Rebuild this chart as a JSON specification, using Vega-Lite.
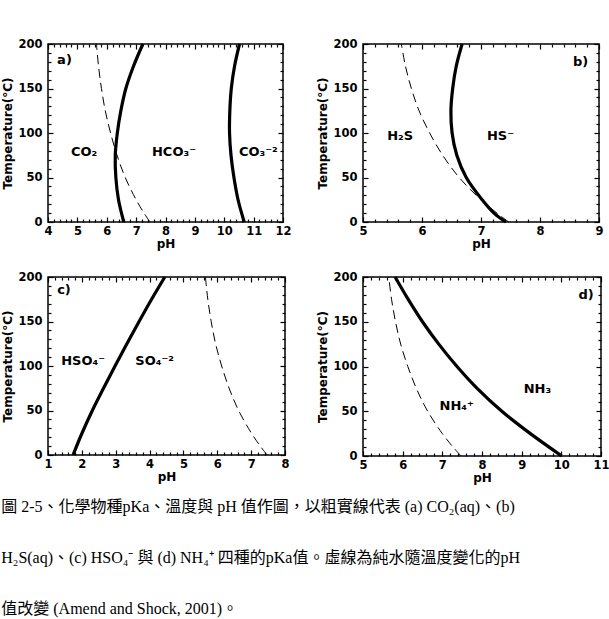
{
  "$schema": "https://vega.github.io/schema/vega-lite/v6.json",
  "background": "white",
  "padding": {"left": 1, "top": 36, "right": 2, "bottom": 2},
  "title": {
    "text": [
      "圖 2-5、化學物種pKa、溫度與 pH 值作圖，以粗實線代表 (a) CO₂(aq)、(b)",
      "H₂S(aq)、(c) HSO₄⁻ 與 (d) NH₄⁺ 四種的pKa值。虛線為純水隨溫度變化的pH",
      "值改變 (Amend and Shock, 2001)。"
    ],
    "orient": "bottom",
    "anchor": "start",
    "font": "Liberation Serif, Noto Sans CJK TC",
    "fontSize": 16,
    "fontWeight": "normal",
    "color": "black",
    "lineHeight": 51,
    "offset": 15
  },
  "columns": 2,
  "bounds": "flush",
  "align": "none",
  "spacing": {"row": 55, "column": 78},
  "datasets": {
    "pka": [
      {"panel": "a", "pair": "CO2/HCO3-", "T": 0, "pH": 6.58},
      {"panel": "a", "pair": "CO2/HCO3-", "T": 25, "pH": 6.40},
      {"panel": "a", "pair": "CO2/HCO3-", "T": 50, "pH": 6.31},
      {"panel": "a", "pair": "CO2/HCO3-", "T": 75, "pH": 6.29},
      {"panel": "a", "pair": "CO2/HCO3-", "T": 100, "pH": 6.36},
      {"panel": "a", "pair": "CO2/HCO3-", "T": 125, "pH": 6.48},
      {"panel": "a", "pair": "CO2/HCO3-", "T": 150, "pH": 6.65},
      {"panel": "a", "pair": "CO2/HCO3-", "T": 175, "pH": 6.91},
      {"panel": "a", "pair": "CO2/HCO3-", "T": 200, "pH": 7.23},
      {"panel": "a", "pair": "HCO3-/CO3-2", "T": 0, "pH": 10.68},
      {"panel": "a", "pair": "HCO3-/CO3-2", "T": 25, "pH": 10.47},
      {"panel": "a", "pair": "HCO3-/CO3-2", "T": 50, "pH": 10.33},
      {"panel": "a", "pair": "HCO3-/CO3-2", "T": 75, "pH": 10.23},
      {"panel": "a", "pair": "HCO3-/CO3-2", "T": 100, "pH": 10.18},
      {"panel": "a", "pair": "HCO3-/CO3-2", "T": 125, "pH": 10.19},
      {"panel": "a", "pair": "HCO3-/CO3-2", "T": 150, "pH": 10.24},
      {"panel": "a", "pair": "HCO3-/CO3-2", "T": 175, "pH": 10.35},
      {"panel": "a", "pair": "HCO3-/CO3-2", "T": 200, "pH": 10.52},
      {"panel": "b", "pair": "H2S/HS-", "T": 0, "pH": 7.42},
      {"panel": "b", "pair": "H2S/HS-", "T": 10, "pH": 7.22},
      {"panel": "b", "pair": "H2S/HS-", "T": 25, "pH": 7.02},
      {"panel": "b", "pair": "H2S/HS-", "T": 50, "pH": 6.75},
      {"panel": "b", "pair": "H2S/HS-", "T": 75, "pH": 6.59},
      {"panel": "b", "pair": "H2S/HS-", "T": 100, "pH": 6.51},
      {"panel": "b", "pair": "H2S/HS-", "T": 125, "pH": 6.49},
      {"panel": "b", "pair": "H2S/HS-", "T": 150, "pH": 6.52},
      {"panel": "b", "pair": "H2S/HS-", "T": 175, "pH": 6.58},
      {"panel": "b", "pair": "H2S/HS-", "T": 200, "pH": 6.68},
      {"panel": "c", "pair": "HSO4-/SO4-2", "T": 0, "pH": 1.74},
      {"panel": "c", "pair": "HSO4-/SO4-2", "T": 25, "pH": 2.01},
      {"panel": "c", "pair": "HSO4-/SO4-2", "T": 50, "pH": 2.31},
      {"panel": "c", "pair": "HSO4-/SO4-2", "T": 75, "pH": 2.64},
      {"panel": "c", "pair": "HSO4-/SO4-2", "T": 100, "pH": 2.98},
      {"panel": "c", "pair": "HSO4-/SO4-2", "T": 125, "pH": 3.33},
      {"panel": "c", "pair": "HSO4-/SO4-2", "T": 150, "pH": 3.69},
      {"panel": "c", "pair": "HSO4-/SO4-2", "T": 175, "pH": 4.06},
      {"panel": "c", "pair": "HSO4-/SO4-2", "T": 200, "pH": 4.45},
      {"panel": "d", "pair": "NH4+/NH3", "T": 0, "pH": 10.01},
      {"panel": "d", "pair": "NH4+/NH3", "T": 25, "pH": 9.22},
      {"panel": "d", "pair": "NH4+/NH3", "T": 50, "pH": 8.50},
      {"panel": "d", "pair": "NH4+/NH3", "T": 75, "pH": 7.89},
      {"panel": "d", "pair": "NH4+/NH3", "T": 100, "pH": 7.37},
      {"panel": "d", "pair": "NH4+/NH3", "T": 125, "pH": 6.91},
      {"panel": "d", "pair": "NH4+/NH3", "T": 150, "pH": 6.50},
      {"panel": "d", "pair": "NH4+/NH3", "T": 175, "pH": 6.14},
      {"panel": "d", "pair": "NH4+/NH3", "T": 200, "pH": 5.81}
    ],
    "neutral": [
      {"T": 0, "pH": 7.47},
      {"T": 10, "pH": 7.27},
      {"T": 25, "pH": 7.00},
      {"T": 50, "pH": 6.63},
      {"T": 75, "pH": 6.35},
      {"T": 100, "pH": 6.13},
      {"T": 125, "pH": 5.95},
      {"T": 150, "pH": 5.82},
      {"T": 175, "pH": 5.72},
      {"T": 200, "pH": 5.65}
    ],
    "species": [
      {"panel": "a", "text": "CO₂", "pH": 4.78, "T": 79},
      {"panel": "a", "text": "HCO₃⁻", "pH": 7.54, "T": 79},
      {"panel": "a", "text": "CO₃⁻²", "pH": 10.5, "T": 79},
      {"panel": "b", "text": "H₂S", "pH": 5.41, "T": 97},
      {"panel": "b", "text": "HS⁻", "pH": 7.10, "T": 97},
      {"panel": "c", "text": "HSO₄⁻", "pH": 1.39, "T": 106},
      {"panel": "c", "text": "SO₄⁻²", "pH": 3.58, "T": 106},
      {"panel": "d", "text": "NH₄⁺", "pH": 6.93, "T": 56},
      {"panel": "d", "text": "NH₃", "pH": 9.05, "T": 75}
    ],
    "tags": [
      {"panel": "a", "text": "a)", "pH": 4.31, "T": 182},
      {"panel": "b", "text": "b)", "pH": 8.56, "T": 180},
      {"panel": "c", "text": "c)", "pH": 1.27, "T": 185},
      {"panel": "d", "text": "d)", "pH": 10.43, "T": 180}
    ]
  },
  "concat": [
    {
      "width": 235, "height": 178,
      "resolve": {"axis": {"x": "independent", "y": "independent"}},
      "layer": [
        {
          "data": {"name": "pka"},
          "transform": [{"filter": "datum.panel === 'a'"}],
          "mark": {"type": "line", "color": "black", "strokeWidth": 3.2, "interpolate": "catmull-rom"},
          "encoding": {
            "x": {"field": "pH", "type": "quantitative", "scale": {"domain": [4, 12], "nice": false, "zero": false},
                  "axis": {"orient": "bottom", "values": [4, 5, 6, 7, 8, 9, 10, 11, 12], "title": "pH"}},
            "y": {"field": "T", "type": "quantitative", "scale": {"domain": [0, 200], "nice": false},
                  "axis": {"orient": "left", "values": [0, 50, 100, 150, 200], "title": "Temperature(°C)"}},
            "detail": {"field": "pair"},
            "order": {"field": "T"}
          }
        },
        {
          "data": {"name": "neutral"},
          "mark": {"type": "line", "color": "black", "strokeWidth": 1, "strokeDash": [9, 5], "interpolate": "catmull-rom"},
          "encoding": {
            "x": {"field": "pH", "type": "quantitative", "scale": {"domain": [4, 12], "nice": false, "zero": false},
                  "axis": {"orient": "top", "values": [4, 5, 6, 7, 8, 9, 10, 11, 12], "labels": false, "title": null}},
            "y": {"field": "T", "type": "quantitative", "scale": {"domain": [0, 200], "nice": false},
                  "axis": {"orient": "right", "values": [0, 50, 100, 150, 200], "labels": false, "title": null}},
            "order": {"field": "T"}
          }
        },
        {
          "data": {"name": "species"},
          "transform": [{"filter": "datum.panel === 'a'"}],
          "mark": {"type": "text", "align": "left", "baseline": "middle", "font": "DejaVu Sans", "fontWeight": "bold", "fontSize": 13, "color": "black"},
          "encoding": {
            "x": {"field": "pH", "type": "quantitative", "scale": {"domain": [4, 12], "nice": false, "zero": false},
                  "axis": {"orient": "bottom", "values": [4.2, 4.4, 4.6, 4.8, 5.2, 5.4, 5.6, 5.8, 6.2, 6.4, 6.6, 6.8, 7.2, 7.4, 7.6, 7.8, 8.2, 8.4, 8.6, 8.8, 9.2, 9.4, 9.6, 9.8, 10.2, 10.4, 10.6, 10.8, 11.2, 11.4, 11.6, 11.8], "labels": false, "title": null, "tickSize": -3}},
            "y": {"field": "T", "type": "quantitative", "scale": {"domain": [0, 200], "nice": false},
                  "axis": {"orient": "left", "values": [10, 20, 30, 40, 60, 70, 80, 90, 110, 120, 130, 140, 160, 170, 180, 190], "labels": false, "title": null, "tickSize": -3}},
            "text": {"field": "text"}
          }
        },
        {
          "data": {"name": "tags"},
          "transform": [{"filter": "datum.panel === 'a'"}],
          "mark": {"type": "text", "align": "left", "baseline": "middle", "font": "DejaVu Sans", "fontWeight": "bold", "fontSize": 13, "color": "black"},
          "encoding": {
            "x": {"field": "pH", "type": "quantitative", "scale": {"domain": [4, 12], "nice": false, "zero": false},
                  "axis": {"orient": "top", "values": [4.2, 4.4, 4.6, 4.8, 5.2, 5.4, 5.6, 5.8, 6.2, 6.4, 6.6, 6.8, 7.2, 7.4, 7.6, 7.8, 8.2, 8.4, 8.6, 8.8, 9.2, 9.4, 9.6, 9.8, 10.2, 10.4, 10.6, 10.8, 11.2, 11.4, 11.6, 11.8], "labels": false, "title": null, "tickSize": -3}},
            "y": {"field": "T", "type": "quantitative", "scale": {"domain": [0, 200], "nice": false},
                  "axis": {"orient": "right", "values": [10, 20, 30, 40, 60, 70, 80, 90, 110, 120, 130, 140, 160, 170, 180, 190], "labels": false, "title": null, "tickSize": -3}},
            "text": {"field": "text"}
          }
        }
      ]
    },
    {
      "width": 236, "height": 178,
      "resolve": {"axis": {"x": "independent", "y": "independent"}},
      "layer": [
        {
          "data": {"name": "pka"},
          "transform": [{"filter": "datum.panel === 'b'"}],
          "mark": {"type": "line", "color": "black", "strokeWidth": 3.2, "interpolate": "catmull-rom"},
          "encoding": {
            "x": {"field": "pH", "type": "quantitative", "scale": {"domain": [5, 9], "nice": false, "zero": false},
                  "axis": {"orient": "bottom", "values": [5, 6, 7, 8, 9], "title": "pH"}},
            "y": {"field": "T", "type": "quantitative", "scale": {"domain": [0, 200], "nice": false},
                  "axis": {"orient": "left", "values": [0, 50, 100, 150, 200], "title": "Temperature(°C)"}},
            "detail": {"field": "pair"},
            "order": {"field": "T"}
          }
        },
        {
          "data": {"name": "neutral"},
          "mark": {"type": "line", "color": "black", "strokeWidth": 1, "strokeDash": [9, 5], "interpolate": "catmull-rom"},
          "encoding": {
            "x": {"field": "pH", "type": "quantitative", "scale": {"domain": [5, 9], "nice": false, "zero": false},
                  "axis": {"orient": "top", "values": [5, 6, 7, 8, 9], "labels": false, "title": null}},
            "y": {"field": "T", "type": "quantitative", "scale": {"domain": [0, 200], "nice": false},
                  "axis": {"orient": "right", "values": [0, 50, 100, 150, 200], "labels": false, "title": null}},
            "order": {"field": "T"}
          }
        },
        {
          "data": {"name": "species"},
          "transform": [{"filter": "datum.panel === 'b'"}],
          "mark": {"type": "text", "align": "left", "baseline": "middle", "font": "DejaVu Sans", "fontWeight": "bold", "fontSize": 13, "color": "black"},
          "encoding": {
            "x": {"field": "pH", "type": "quantitative", "scale": {"domain": [5, 9], "nice": false, "zero": false},
                  "axis": {"orient": "bottom", "values": [5.2, 5.4, 5.6, 5.8, 6.2, 6.4, 6.6, 6.8, 7.2, 7.4, 7.6, 7.8, 8.2, 8.4, 8.6, 8.8], "labels": false, "title": null, "tickSize": -3}},
            "y": {"field": "T", "type": "quantitative", "scale": {"domain": [0, 200], "nice": false},
                  "axis": {"orient": "left", "values": [10, 20, 30, 40, 60, 70, 80, 90, 110, 120, 130, 140, 160, 170, 180, 190], "labels": false, "title": null, "tickSize": -3}},
            "text": {"field": "text"}
          }
        },
        {
          "data": {"name": "tags"},
          "transform": [{"filter": "datum.panel === 'b'"}],
          "mark": {"type": "text", "align": "left", "baseline": "middle", "font": "DejaVu Sans", "fontWeight": "bold", "fontSize": 13, "color": "black"},
          "encoding": {
            "x": {"field": "pH", "type": "quantitative", "scale": {"domain": [5, 9], "nice": false, "zero": false},
                  "axis": {"orient": "top", "values": [5.2, 5.4, 5.6, 5.8, 6.2, 6.4, 6.6, 6.8, 7.2, 7.4, 7.6, 7.8, 8.2, 8.4, 8.6, 8.8], "labels": false, "title": null, "tickSize": -3}},
            "y": {"field": "T", "type": "quantitative", "scale": {"domain": [0, 200], "nice": false},
                  "axis": {"orient": "right", "values": [10, 20, 30, 40, 60, 70, 80, 90, 110, 120, 130, 140, 160, 170, 180, 190], "labels": false, "title": null, "tickSize": -3}},
            "text": {"field": "text"}
          }
        }
      ]
    },
    {
      "width": 237, "height": 178,
      "resolve": {"axis": {"x": "independent", "y": "independent"}},
      "layer": [
        {
          "data": {"name": "pka"},
          "transform": [{"filter": "datum.panel === 'c'"}],
          "mark": {"type": "line", "color": "black", "strokeWidth": 3.2, "interpolate": "catmull-rom"},
          "encoding": {
            "x": {"field": "pH", "type": "quantitative", "scale": {"domain": [1, 8], "nice": false, "zero": false},
                  "axis": {"orient": "bottom", "values": [1, 2, 3, 4, 5, 6, 7, 8], "title": "pH"}},
            "y": {"field": "T", "type": "quantitative", "scale": {"domain": [0, 200], "nice": false},
                  "axis": {"orient": "left", "values": [0, 50, 100, 150, 200], "title": "Temperature(°C)"}},
            "detail": {"field": "pair"},
            "order": {"field": "T"}
          }
        },
        {
          "data": {"name": "neutral"},
          "mark": {"type": "line", "color": "black", "strokeWidth": 1, "strokeDash": [9, 5], "interpolate": "catmull-rom"},
          "encoding": {
            "x": {"field": "pH", "type": "quantitative", "scale": {"domain": [1, 8], "nice": false, "zero": false},
                  "axis": {"orient": "top", "values": [1, 2, 3, 4, 5, 6, 7, 8], "labels": false, "title": null}},
            "y": {"field": "T", "type": "quantitative", "scale": {"domain": [0, 200], "nice": false},
                  "axis": {"orient": "right", "values": [0, 50, 100, 150, 200], "labels": false, "title": null}},
            "order": {"field": "T"}
          }
        },
        {
          "data": {"name": "species"},
          "transform": [{"filter": "datum.panel === 'c'"}],
          "mark": {"type": "text", "align": "left", "baseline": "middle", "font": "DejaVu Sans", "fontWeight": "bold", "fontSize": 13, "color": "black"},
          "encoding": {
            "x": {"field": "pH", "type": "quantitative", "scale": {"domain": [1, 8], "nice": false, "zero": false},
                  "axis": {"orient": "bottom", "values": [1.2, 1.4, 1.6, 1.8, 2.2, 2.4, 2.6, 2.8, 3.2, 3.4, 3.6, 3.8, 4.2, 4.4, 4.6, 4.8, 5.2, 5.4, 5.6, 5.8, 6.2, 6.4, 6.6, 6.8, 7.2, 7.4, 7.6, 7.8], "labels": false, "title": null, "tickSize": -3}},
            "y": {"field": "T", "type": "quantitative", "scale": {"domain": [0, 200], "nice": false},
                  "axis": {"orient": "left", "values": [10, 20, 30, 40, 60, 70, 80, 90, 110, 120, 130, 140, 160, 170, 180, 190], "labels": false, "title": null, "tickSize": -3}},
            "text": {"field": "text"}
          }
        },
        {
          "data": {"name": "tags"},
          "transform": [{"filter": "datum.panel === 'c'"}],
          "mark": {"type": "text", "align": "left", "baseline": "middle", "font": "DejaVu Sans", "fontWeight": "bold", "fontSize": 13, "color": "black"},
          "encoding": {
            "x": {"field": "pH", "type": "quantitative", "scale": {"domain": [1, 8], "nice": false, "zero": false},
                  "axis": {"orient": "top", "values": [1.2, 1.4, 1.6, 1.8, 2.2, 2.4, 2.6, 2.8, 3.2, 3.4, 3.6, 3.8, 4.2, 4.4, 4.6, 4.8, 5.2, 5.4, 5.6, 5.8, 6.2, 6.4, 6.6, 6.8, 7.2, 7.4, 7.6, 7.8], "labels": false, "title": null, "tickSize": -3}},
            "y": {"field": "T", "type": "quantitative", "scale": {"domain": [0, 200], "nice": false},
                  "axis": {"orient": "right", "values": [10, 20, 30, 40, 60, 70, 80, 90, 110, 120, 130, 140, 160, 170, 180, 190], "labels": false, "title": null, "tickSize": -3}},
            "text": {"field": "text"}
          }
        }
      ]
    },
    {
      "width": 238, "height": 179,
      "resolve": {"axis": {"x": "independent", "y": "independent"}},
      "layer": [
        {
          "data": {"name": "pka"},
          "transform": [{"filter": "datum.panel === 'd'"}],
          "mark": {"type": "line", "color": "black", "strokeWidth": 3.2, "interpolate": "catmull-rom"},
          "encoding": {
            "x": {"field": "pH", "type": "quantitative", "scale": {"domain": [5, 11], "nice": false, "zero": false},
                  "axis": {"orient": "bottom", "values": [5, 6, 7, 8, 9, 10, 11], "title": "pH"}},
            "y": {"field": "T", "type": "quantitative", "scale": {"domain": [0, 200], "nice": false},
                  "axis": {"orient": "left", "values": [0, 50, 100, 150, 200], "title": "Temperature(°C)"}},
            "detail": {"field": "pair"},
            "order": {"field": "T"}
          }
        },
        {
          "data": {"name": "neutral"},
          "mark": {"type": "line", "color": "black", "strokeWidth": 1, "strokeDash": [9, 5], "interpolate": "catmull-rom"},
          "encoding": {
            "x": {"field": "pH", "type": "quantitative", "scale": {"domain": [5, 11], "nice": false, "zero": false},
                  "axis": {"orient": "top", "values": [5, 6, 7, 8, 9, 10, 11], "labels": false, "title": null}},
            "y": {"field": "T", "type": "quantitative", "scale": {"domain": [0, 200], "nice": false},
                  "axis": {"orient": "right", "values": [0, 50, 100, 150, 200], "labels": false, "title": null}},
            "order": {"field": "T"}
          }
        },
        {
          "data": {"name": "species"},
          "transform": [{"filter": "datum.panel === 'd'"}],
          "mark": {"type": "text", "align": "left", "baseline": "middle", "font": "DejaVu Sans", "fontWeight": "bold", "fontSize": 13, "color": "black"},
          "encoding": {
            "x": {"field": "pH", "type": "quantitative", "scale": {"domain": [5, 11], "nice": false, "zero": false},
                  "axis": {"orient": "bottom", "values": [5.2, 5.4, 5.6, 5.8, 6.2, 6.4, 6.6, 6.8, 7.2, 7.4, 7.6, 7.8, 8.2, 8.4, 8.6, 8.8, 9.2, 9.4, 9.6, 9.8, 10.2, 10.4, 10.6, 10.8], "labels": false, "title": null, "tickSize": -3}},
            "y": {"field": "T", "type": "quantitative", "scale": {"domain": [0, 200], "nice": false},
                  "axis": {"orient": "left", "values": [10, 20, 30, 40, 60, 70, 80, 90, 110, 120, 130, 140, 160, 170, 180, 190], "labels": false, "title": null, "tickSize": -3}},
            "text": {"field": "text"}
          }
        },
        {
          "data": {"name": "tags"},
          "transform": [{"filter": "datum.panel === 'd'"}],
          "mark": {"type": "text", "align": "left", "baseline": "middle", "font": "DejaVu Sans", "fontWeight": "bold", "fontSize": 13, "color": "black"},
          "encoding": {
            "x": {"field": "pH", "type": "quantitative", "scale": {"domain": [5, 11], "nice": false, "zero": false},
                  "axis": {"orient": "top", "values": [5.2, 5.4, 5.6, 5.8, 6.2, 6.4, 6.6, 6.8, 7.2, 7.4, 7.6, 7.8, 8.2, 8.4, 8.6, 8.8, 9.2, 9.4, 9.6, 9.8, 10.2, 10.4, 10.6, 10.8], "labels": false, "title": null, "tickSize": -3}},
            "y": {"field": "T", "type": "quantitative", "scale": {"domain": [0, 200], "nice": false},
                  "axis": {"orient": "right", "values": [10, 20, 30, 40, 60, 70, 80, 90, 110, 120, 130, 140, 160, 170, 180, 190], "labels": false, "title": null, "tickSize": -3}},
            "text": {"field": "text"}
          }
        }
      ]
    }
  ],
  "config": {
    "view": {"stroke": "black", "strokeWidth": 1.5},
    "axis": {
      "grid": false,
      "domain": false,
      "ticks": true,
      "tickSize": -5,
      "tickColor": "black",
      "tickWidth": 1.2,
      "labelFont": "DejaVu Sans",
      "labelFontWeight": "bold",
      "labelFontSize": 11.5,
      "labelColor": "black",
      "labelFlush": false,
      "labelOverlap": false,
      "titleFont": "DejaVu Sans",
      "titleFontWeight": "bold",
      "titleFontSize": 12,
      "titleColor": "black"
    },
    "axisX": {"labelPadding": 8, "titlePadding": 2},
    "axisY": {"labelPadding": 11, "titlePadding": 3}
  }
}
